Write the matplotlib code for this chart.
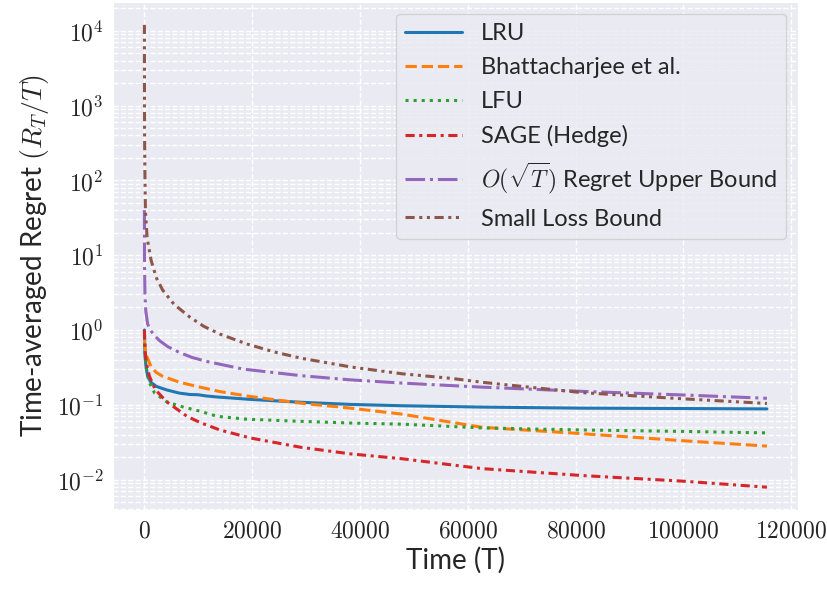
import numpy as np
import matplotlib.pyplot as plt
import seaborn as sns
from matplotlib.ticker import FuncFormatter

sns.set_style('darkgrid')
plt.rcParams['font.family'] = ['Lato', 'DejaVu Sans']
plt.rcParams['mathtext.fontset'] = 'cm'

# values (T, time-averaged regret)
lru_t = [1, 100, 300, 600, 1200, 2200, 4100, 6500, 8500, 10000, 11500, 13500, 19600, 29000, 38300, 47700, 62600, 81300, 100000, 115500]
lru_y = [1.0, 0.45, 0.32, 0.24, 0.2, 0.176, 0.158, 0.143, 0.137, 0.136, 0.131, 0.127, 0.118, 0.108, 0.101, 0.097, 0.093, 0.090, 0.089, 0.088]

bha_t = [1, 100, 400, 1250, 2200, 3400, 6500, 9700, 14000, 19300, 29000, 38300, 47700, 62600, 81300, 100000, 115500]
bha_y = [0.74, 0.6, 0.45, 0.32, 0.27, 0.24, 0.2, 0.176, 0.15, 0.13, 0.105, 0.09, 0.075, 0.05, 0.041, 0.033, 0.028]

lfu_t = [1, 100, 300, 900, 1900, 4100, 6500, 10300, 13500, 19000, 29000, 38300, 47700, 62600, 81300, 100000, 115500]
lfu_y = [0.85, 0.5, 0.32, 0.2, 0.143, 0.11, 0.096, 0.082, 0.07, 0.064, 0.06, 0.057, 0.055, 0.049, 0.046, 0.044, 0.042]

sage_t = [1, 100, 400, 935, 2000, 4100, 7900, 10300, 14000, 19600, 29000, 38300, 47700, 62600, 81300, 100000, 115500]
sage_y = [1.0, 0.55, 0.35, 0.24, 0.16, 0.11, 0.07, 0.058, 0.046, 0.036, 0.027, 0.022, 0.019, 0.014, 0.0113, 0.0095, 0.0079]

sqrt_t = [1, 10, 30, 100, 250, 600, 1100, 1800, 2800, 4300, 6500, 8800, 11500, 18300, 29000, 38300, 47700, 62600, 81300, 100000, 115500]
sqrt_y = [40, 12.5, 7.0, 3.0, 1.8, 1.2, 1.0, 0.85, 0.72, 0.6, 0.5, 0.43, 0.38, 0.30, 0.245, 0.215, 0.195, 0.172, 0.151, 0.135, 0.122]

small_t = [1, 10, 30, 80, 190, 500, 1250, 2200, 3400, 5500, 8400, 11000, 14000, 19000, 24000, 29000, 38300, 47700, 57000, 62600, 81300, 100000, 115500]
small_y = [12000, 1500, 450, 140, 39, 17, 8.5, 5.0, 3.4, 2.2, 1.49, 1.12, 0.88, 0.65, 0.51, 0.42, 0.32, 0.26, 0.225, 0.2, 0.145, 0.12, 0.104]

fig, ax = plt.subplots(figsize=(8.27, 5.92), dpi=100)
fig.subplots_adjust(left=0.137, right=0.965, top=0.997, bottom=0.138)

lw = 2.2
ax.plot(lru_t, lru_y, color='#1f77b4', lw=lw, ls='-', label='LRU')
ax.plot(bha_t, bha_y, color='#ff7f0e', lw=lw, ls='--', label='Bhattacharjee et al.')
ax.plot(lfu_t, lfu_y, color='#2ca02c', lw=lw, ls=':', label='LFU')
ax.plot(sage_t, sage_y, color='#d62728', lw=lw, ls=(0, (3, 1.5, 1, 1.5)), label='SAGE (Hedge)')
ax.plot(sqrt_t, sqrt_y, color='#9467bd', lw=lw, ls='-.', label=r'$O(\sqrt{T})$ Regret Upper Bound')
ax.plot(small_t, small_y, color='#8c564b', lw=lw, ls=(0, (3, 1.5, 1, 1.5, 1, 1.5)), label='Small Loss Bound')

ax.set_yscale('log')
ax.grid(True, which='both', ls='--', color='white', lw=1)
ax.xaxis.set_major_formatter(FuncFormatter(lambda v, p: r'$%d$' % v))
ax.yaxis.set_major_formatter(FuncFormatter(lambda v, p: r'$10^{%d}$' % round(np.log10(v))))
ax.tick_params(axis='both', labelsize=17)

ax.set_xlabel('Time (T)', fontsize=20)
ax.set_ylabel(r'Time-averaged Regret $(R_T/T)$', fontsize=20)
ax.legend(loc='upper right', fontsize=17, handlelength=2.4, handletextpad=0.8,
          labelspacing=0.55, borderaxespad=0.5)

plt.savefig('out.png', dpi=100)
